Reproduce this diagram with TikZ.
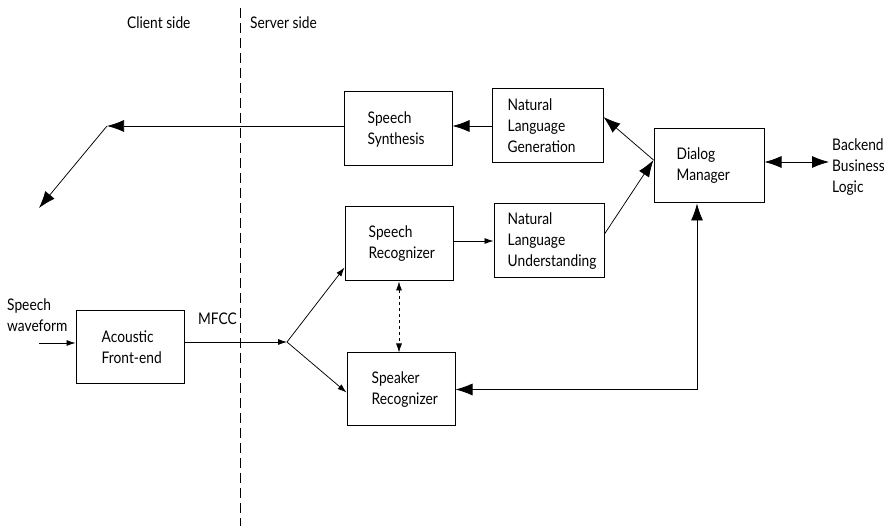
\documentclass[tikz,border=0pt]{standalone}
\usepackage{fontspec}
\setmainfont{Lato}[FakeStretch=0.86]
\usetikzlibrary{arrows.meta,calc}
\begin{document}
\begin{tikzpicture}[x=1pt,y=-1pt,
  font=\fontsize{16}{21}\selectfont,
  blk/.style={draw, line width=1pt, minimum width=108pt, minimum height=74pt, inner sep=0pt},
  txt/.style={align=left, inner sep=0pt, anchor=west},
  conn/.style={line width=0.75pt},
  bigtip/.style={conn, -{Latex[length=17pt,width=12pt]}},
  bigboth/.style={conn, {Latex[length=17pt,width=12pt]}-{Latex[length=17pt,width=12pt]}},
  smalltip/.style={conn, -{Latex[length=9pt,width=6pt]}},
  smallboth/.style={conn, {Latex[length=9pt,width=6pt]}-{Latex[length=9pt,width=6pt]}}
]
\useasboundingbox (0,0) rectangle (884,526);

% divider
\coordinate (divtop) at (240,8);
\coordinate (divbot) at (240,526);
\draw[line width=0.8pt, dash pattern=on 10pt off 5pt] (divtop) -- (divbot);
\node[txt] (client) at (127,23) {Client side};
\node[txt] (server) at (250,23) {Server side};

% boxes
\node[blk] (ss)  at (398,129) {};
\node[blk, minimum width=111pt] (nlg) at (547.5,126) {};
\node[blk, minimum width=110pt] (dm)  at (709,166) {};
\node[blk, minimum width=110pt] (nlu) at (549,241) {};
\node[blk] (sr)  at (399,244) {};
\node[blk, minimum height=73pt] (spk) at (401,389.5) {};
\node[blk, minimum height=73pt] (afe) at (130,347.5) {};

% box texts
\node[txt] (ssT)  at ($(ss.west)+(24,0)$)  {Speech\\Synthesis};
\node[txt] (nlgT) at ($(nlg.west)+(16,0)$) {Natural\\Language\\Generation};
\node[txt] (dmT)  at ($(dm.west)+(23,0)$)  {Dialog\\Manager};
\node[txt] (nluT) at ($(nlu.west)+(14,0)$) {Natural\\Language\\Understanding};
\node[txt] (srT)  at ($(sr.west)+(24,0)$)  {Speech\\Recognizer};
\node[txt] (spkT) at ($(spk.west)+(25,0)$) {Speaker\\Recognizer};
\node[txt] (afeT) at ($(afe.west)+(26,0)$) {Acoustic\\Front-end};

% free labels
\node[txt] (wavT) at (7,315) {Speech\\waveform};
\node[txt] (mfcc) at (198,319) {MFCC};
\node[txt] (back) at (832,167) {Backend\\Business\\Logic};

% coordinates
\coordinate (wav) at (39,343);
\coordinate (junc) at (287,342);
\coordinate (turn) at (107,126);
\coordinate (spkout) at (39,208);
\coordinate (backend) at (829,162);

% connectors
\draw[smalltip] (wav) -- (wav -| afe.west);
\draw[smalltip] (junc -| afe.east) -- (junc);
\draw[smalltip] (junc) -- ([yshift=14pt]sr.south west);
\draw[smalltip] (junc) -- ([yshift=-3pt]spk.west);
\draw[smalltip] (sr.east |- nlu.west) -- (nlu.west);
\draw[smallboth, dashed] (sr.south) -- (sr.south |- spk.north);
\draw[bigtip] ([yshift=7pt]nlu.east) -- ([yshift=6pt]dm.west);
\draw[bigtip] ([yshift=6pt]dm.west) -- ([yshift=9pt]nlg.east);
\draw[bigtip] (nlg.west) -- (nlg.west -| ss.east);
\draw[bigtip] (turn -| ss.west) -- (turn);
\draw[bigtip] (turn) -- (spkout);
\draw[bigboth] (spk.east) -| ([xshift=-12pt]dm.south);
\draw[bigboth] (dm.east |- backend) -- (backend);
\end{tikzpicture}
\end{document}
